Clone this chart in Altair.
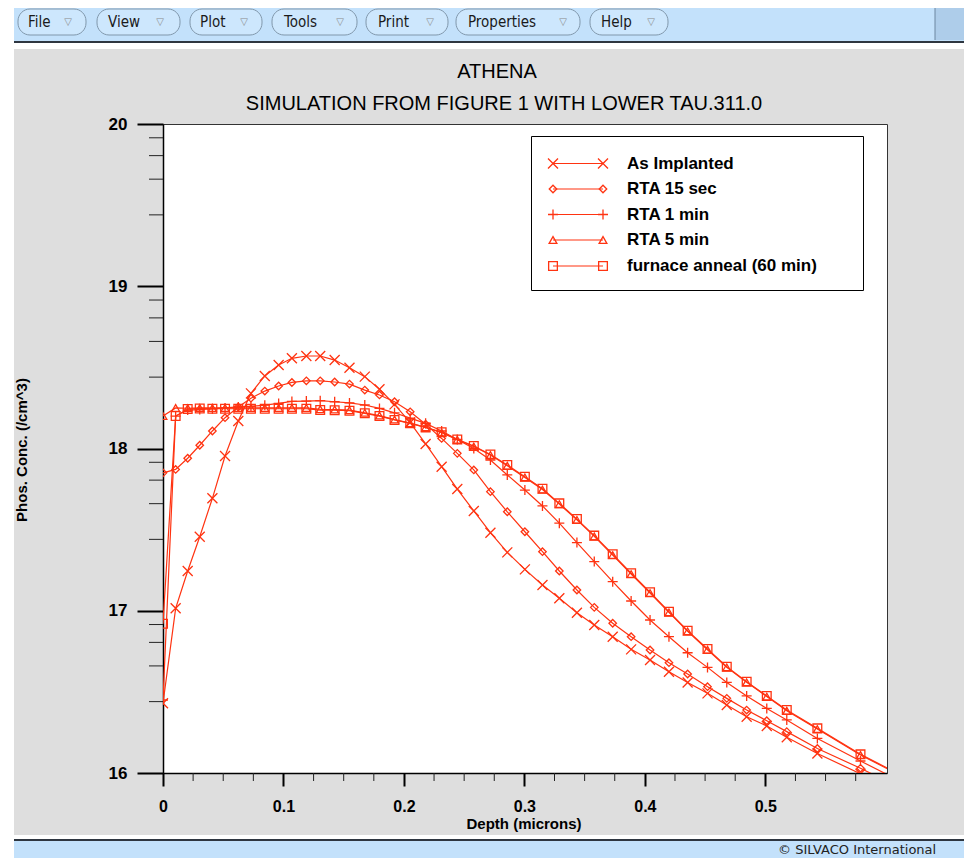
import altair as alt
import pandas as pd

RED = "#ff3311"
OX, OY = 163, 124          # page position of the plot origin
W, H = 724, 649            # plot area size

# ---------------- data ----------------
depth = [0.0, 0.0105, 0.0205, 0.0305, 0.041, 0.0515, 0.0625, 0.073, 0.0845, 0.096,
         0.107, 0.119, 0.1305, 0.1425, 0.1548, 0.1675, 0.1797, 0.1922, 0.2052, 0.218,
         0.2313, 0.2443, 0.258, 0.2718, 0.2858, 0.3004, 0.315, 0.329, 0.3436, 0.358,
         0.3733, 0.3886, 0.4043, 0.42, 0.4355, 0.452, 0.468, 0.4845, 0.5012, 0.5178,
         0.5432, 0.579, 0.62]

as_implanted = [16.43, 17.015, 17.245, 17.456, 17.693, 17.954, 18.17, 18.34, 18.447, 18.515,
                18.556, 18.57, 18.57, 18.545, 18.498, 18.443, 18.365, 18.272, 18.16, 18.028,
                17.888, 17.75, 17.615, 17.481, 17.36, 17.255, 17.159, 17.077, 16.988, 16.912,
                16.84, 16.762, 16.696, 16.624, 16.558, 16.491, 16.419, 16.347, 16.29, 16.22,
                16.12, 15.995, 15.84]

rta_15s = [17.85, 17.871, 17.94, 18.02, 18.108, 18.19, 18.256, 18.31, 18.354, 18.385,
           18.407, 18.417, 18.417, 18.41, 18.397, 18.36, 18.33, 18.288, 18.226, 18.15,
           18.062, 17.97, 17.868, 17.734, 17.61, 17.487, 17.364, 17.245, 17.128, 17.021,
           16.923, 16.84, 16.758, 16.68, 16.61, 16.532, 16.46, 16.388, 16.322, 16.255,
           16.151, 16.029, 15.88]

rta_1min = [16.45, 18.2, 18.237, 18.24, 18.245, 18.25, 18.256, 18.26, 18.267, 18.278,
            18.29, 18.292, 18.295, 18.288, 18.281, 18.268, 18.247, 18.22, 18.187, 18.155,
            18.108, 18.056, 18.0, 17.929, 17.837, 17.744, 17.646, 17.54, 17.42, 17.303,
            17.179, 17.06, 16.943, 16.84, 16.741, 16.651, 16.558, 16.475, 16.398, 16.327,
            16.213, 16.074, 15.92]

rta_5min = [18.2, 18.25, 18.248, 18.25, 18.25, 18.25, 18.25, 18.25, 18.25, 18.25,
            18.25, 18.25, 18.242, 18.24, 18.236, 18.22, 18.203, 18.178, 18.156, 18.13,
            18.098, 18.054, 18.012, 17.96, 17.894, 17.822, 17.747, 17.657, 17.56, 17.458,
            17.343, 17.226, 17.109, 16.99, 16.873, 16.76, 16.651, 16.559, 16.471, 16.384,
            16.271, 16.111, 15.955]

furnace = [16.92, 18.2, 18.243, 18.247, 18.245, 18.245, 18.245, 18.245, 18.245, 18.245,
           18.245, 18.245, 18.237, 18.236, 18.233, 18.217, 18.2, 18.176, 18.155, 18.13,
           18.1, 18.056, 18.015, 17.963, 17.898, 17.826, 17.752, 17.662, 17.565, 17.463,
           17.348, 17.231, 17.114, 16.994, 16.877, 16.764, 16.655, 16.563, 16.475, 16.388,
           16.275, 16.115, 15.96]

series_names = ["As Implanted", "RTA 15 sec", "RTA 1 min", "RTA 5 min", "furnace anneal (60 min)"]
series_values = [as_implanted, rta_15s, rta_1min, rta_5min, furnace]

x_major = [0, 0.1, 0.2, 0.3, 0.4, 0.5]
x_minor = [0.025, 0.05, 0.075, 0.125, 0.15, 0.175, 0.225, 0.25, 0.275, 0.325, 0.35,
           0.375, 0.425, 0.45, 0.475, 0.525, 0.55, 0.575]
y_major = [16, 17, 18, 19, 20]
y_minor = [16.44, 16.66, 16.805, 16.915, 17.44, 17.66, 17.805, 17.915,
           18.44, 18.66, 18.805, 18.915, 19.44, 19.66, 19.805, 19.915]

# ---------------- styles ----------------
X_PATH = "M-1,-1L1,1M-1,1L1,-1"
PLUS_PATH = "M-1,0L1,0M0,-1L0,1"
marker_shapes = [X_PATH, "diamond", PLUS_PATH, "triangle-up", "square"]
marker_sizes = [100, 56, 100, 60, 76]

FONT = "Liberation Sans"
UI_FONT = "DejaVu Sans Condensed, DejaVu Sans"

x_scale = alt.Scale(domain=[0, 0.601], nice=False, zero=False)
y_scale = alt.Scale(domain=[16, 20], nice=False, zero=False)

x_axis = alt.Axis(values=x_major, format="~g", title=None, grid=False,
                  tickSize=13, tickWidth=2, tickColor="black",
                  domainColor="black", domainWidth=1.5,
                  labelFont=FONT, labelFontSize=16, labelFontWeight="bold",
                  labelColor="black", labelPadding=12, labelFlush=False,
                  labelOverlap=False)
y_axis = alt.Axis(values=y_major, format="d", title=None, grid=False,
                  tickSize=26, tickWidth=2, tickColor="black",
                  domainColor="black", domainWidth=1.5,
                  labelFont=FONT, labelFontSize=17, labelFontWeight="bold",
                  labelColor="black", labelPadding=10, labelOverlap=False)

layers = []


def px(v):
    return v - OX


def py(v):
    return v - OY


# ---------------- window chrome ----------------
chrome = pd.DataFrame({
    "x1": [px(8), px(14), px(14), px(14), px(935), px(14), px(14), px(14)],
    "x2": [px(14), px(972), px(972), px(972), px(972), px(972), px(972), px(972)],
    "y1": [py(8), py(8), py(41), py(43), py(8), py(835), py(839), py(841)],
    "y2": [py(868), py(41), py(43), py(49), py(40), py(839), py(841), py(868)],
    "fill": ["#ffffff", "#c3e1fb", "#2e3640", "#ffffff", "#aecdea", "#ffffff", "#2e3640", "#c3e1fb"],
})
layers.append(
    alt.Chart(chrome).mark_rect(strokeWidth=0).encode(
        x=alt.X("x1:Q", scale=None, axis=None), x2="x2:Q",
        y=alt.Y("y1:Q", scale=None, axis=None), y2="y2:Q",
        fill=alt.Fill("fill:N", scale=None),
    )
)
layers.append(
    alt.Chart(pd.DataFrame({"a": [px(935)], "b": [py(8)], "c": [py(40)]})).mark_rule(
        color="#6d87a0", strokeWidth=1
    ).encode(x=alt.X("a:Q", scale=None, axis=None), y=alt.Y("b:Q", scale=None, axis=None), y2="c:Q")
)

menu_labels = ["File", "View", "Plot", "Tools", "Print", "Properties", "Help"]
menu_x1 = [18, 97, 190, 272, 366, 456, 590]
menu_x2 = [86, 180, 262, 357, 448, 580, 668]
menu_tx = [28, 108, 200, 284, 378, 468, 601]
menu_arrow = [68, 160, 244, 340, 430, 563, 651]
menu = pd.DataFrame({
    "label": menu_labels,
    "x1": [px(v) for v in menu_x1], "x2": [px(v) for v in menu_x2],
    "tx": [px(v) for v in menu_tx], "ax": [px(v) for v in menu_arrow],
    "y1": [py(9)] * 7, "y2": [py(35)] * 7, "ty": [py(22)] * 7,
})
layers.append(
    alt.Chart(menu).mark_rect(cornerRadius=12, fill="#cde7fd", stroke="#8097ab", strokeWidth=1).encode(
        x=alt.X("x1:Q", scale=None, axis=None), x2="x2:Q",
        y=alt.Y("y1:Q", scale=None, axis=None), y2="y2:Q",
    )
)
layers.append(
    alt.Chart(menu).mark_text(font=UI_FONT, fontSize=15, color="#1a1a1a", align="left", baseline="middle").encode(
        x=alt.X("tx:Q", scale=None, axis=None), y=alt.Y("ty:Q", scale=None, axis=None), text="label:N"
    )
)
layers.append(
    alt.Chart(menu).mark_text(font="DejaVu Sans", fontSize=10, color="#8a8a8a", align="center",
                              baseline="middle", text="\u25bd").encode(
        x=alt.X("ax:Q", scale=None, axis=None), y=alt.Y("ty:Q", scale=None, axis=None)
    )
)


def text_layer(txt, x, y, size, weight="normal", angle=0, align="center", font=FONT, color="black"):
    return alt.Chart(pd.DataFrame({"t": [txt]})).mark_text(
        font=font, fontSize=size, fontWeight=weight, angle=angle, align=align,
        baseline="middle", color=color
    ).encode(x=alt.value(x), y=alt.value(y), text="t:N")


layers.append(text_layer("\u00a9 SILVACO International", px(778), py(850), 13,
                         align="left", font="DejaVu Sans", color="#222"))

# ---------------- titles ----------------
layers.append(text_layer("ATHENA", px(497), py(72), 20))
layers.append(text_layer("SIMULATION FROM FIGURE 1 WITH LOWER TAU.311.0", px(504), py(104), 20))
layers.append(text_layer("Depth (microns)", px(524), py(824), 15, weight="bold"))
layers.append(text_layer("Phos. Conc. (/cm^3)", px(22), py(450), 15, weight="bold", angle=270))

# ---------------- minor ticks ----------------
layers.append(
    alt.Chart(pd.DataFrame({"v": x_minor})).mark_rule(color="#222", strokeWidth=1).encode(
        x=alt.X("v:Q", scale=x_scale, axis=x_axis), y=alt.value(H), y2=alt.value(H + 8)
    )
)
layers.append(
    alt.Chart(pd.DataFrame({"v": y_minor})).mark_rule(color="#222", strokeWidth=1).encode(
        y=alt.Y("v:Q", scale=y_scale, axis=y_axis), x=alt.value(-14), x2=alt.value(0)
    )
)

# ---------------- data series ----------------
for name, vals, shp, sz in zip(series_names, series_values, marker_shapes, marker_sizes):
    df = pd.DataFrame({"depth": depth, "conc": vals, "series": name})
    base = alt.Chart(df).encode(
        x=alt.X("depth:Q", scale=x_scale, axis=x_axis),
        y=alt.Y("conc:Q", scale=y_scale, axis=y_axis),
    )
    layers.append(base.mark_line(color=RED, strokeWidth=1.2, clip=True))
    layers.append(base.mark_point(shape=shp, size=sz, filled=False, color=RED,
                                  strokeWidth=1.3, opacity=1, clip=True))

# ---------------- legend ----------------
leg_y = [39.5, 65, 90.5, 116, 142]
leg_x1, leg_x2, leg_tx = 390, 440, 464
layers.append(
    alt.Chart(pd.DataFrame({"a": [0]})).mark_rect(fill="white", stroke="black", strokeWidth=1).encode(
        x=alt.value(368.5), x2=alt.value(700.5), y=alt.value(12.5), y2=alt.value(166.5)
    )
)
leg = pd.DataFrame({"series": series_names, "ly": leg_y})
layers.append(
    alt.Chart(leg).mark_rule(color=RED, strokeWidth=1.2).encode(
        x=alt.value(leg_x1), x2=alt.value(leg_x2), y=alt.Y("ly:Q", scale=None, axis=None)
    )
)
for name, ly, shp, sz in zip(series_names, leg_y, marker_shapes, marker_sizes):
    pts = pd.DataFrame({"lx": [leg_x1, leg_x2], "ly": [ly, ly]})
    layers.append(
        alt.Chart(pts).mark_point(shape=shp, size=sz, filled=False, color=RED, strokeWidth=1.3, opacity=1).encode(
            x=alt.X("lx:Q", scale=None, axis=None), y=alt.Y("ly:Q", scale=None, axis=None)
        )
    )
layers.append(
    alt.Chart(leg).mark_text(font=FONT, fontSize=17, fontWeight="bold", align="left",
                             baseline="middle", color="black").encode(
        x=alt.value(leg_tx), y=alt.Y("ly:Q", scale=None, axis=None), text="series:N"
    )
)

chart = alt.layer(*layers).properties(
    width=W, height=H,
    background="#dedede",
    padding={"left": 155, "top": 116, "right": 77, "bottom": 85},
    autosize=alt.AutoSizeParams(type="none"),
).configure_view(stroke="#333333", strokeWidth=1, fill="white")

chart.save("out.html", embed_options={"renderer": "svg", "actions": False})
